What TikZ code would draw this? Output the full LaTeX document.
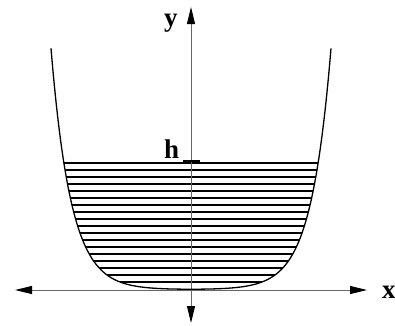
\documentclass[tikz,border=0pt]{standalone}
\usepackage{fontspec}
\setmainfont{Liberation Serif}
\usetikzlibrary{arrows.meta}
\begin{document}
\begin{tikzpicture}[x=1pt,y=-1pt,
  axis/.style={draw=black!60,line width=1pt,
    {Triangle[length=17pt,width=8pt,color=black]}-{Triangle[length=17pt,width=8pt,color=black]}},
  curve/.style={draw=black,line width=1.3pt},
  hatch/.style={draw=black,line width=1.8pt},
  lbl/.style={inner sep=0pt,font=\bfseries\fontsize{27}{27}\selectfont}]
\useasboundingbox (0,0) rectangle (395,325);
% hatching
\foreach \k in {0,...,17}{
  \pgfmathsetmacro{\yy}{163+7*\k}
  \pgfmathsetmacro{\zz}{(289.2-\yy)/0.44+1}
  \pgfmathsetmacro{\dx}{ln(\zz+sqrt(\zz-1)*sqrt(\zz+1))/0.05}
  \draw[hatch] ({191-\dx},\yy) -- ({191+\dx},\yy);
}
% axes
\coordinate (xl) at (15,290);
\coordinate (xr) at (367,290);
\coordinate (yt) at (191,7);
\coordinate (yb) at (191,323);
\draw[axis] (xl) -- (xr);
\draw[axis] (yb) -- (yt);
% curve
\draw[curve] plot[domain=-140:140,samples=241,smooth] ({191+\x},{289.2-0.44*(cosh(0.05*\x)-1)});
% tick at h
\coordinate (ta) at (183,161);
\coordinate (tb) at (200,161);
\draw[line width=1.3pt] (ta) -- (tb);
% labels
\node[lbl,anchor=base west] (ylab) at (164,26) {y};
\node[lbl,anchor=base west] (hlab) at (164,158) {h};
\node[lbl,anchor=base west] (xlab) at (382,298) {x};
\end{tikzpicture}
\end{document}
